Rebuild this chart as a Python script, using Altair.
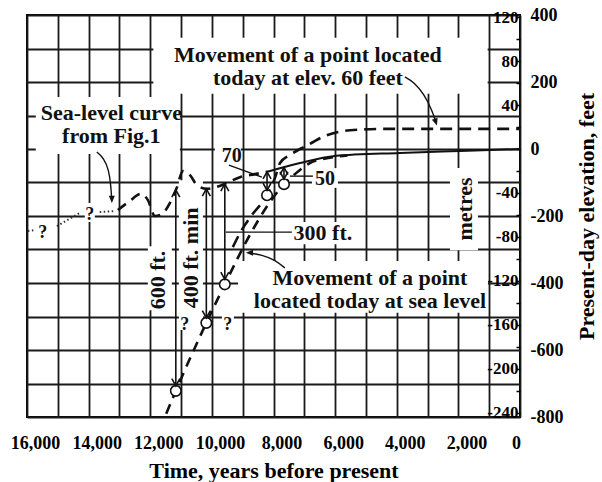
import altair as alt
import pandas as pd

FONT = "Liberation Serif"

# ---------------- data: time in years before present, elevation in feet ----------------
# Sea-level curve from Fig. 1: sparse dotted start, dashed part, solid Holocene part
sl_dot_year = [15970, 15780, 15030, 14290, 13640, 13120]
sl_dot_ft = [-245, -242, -230, -191, -188, -185]
sl_dot_seg = [1, 1, 2, 2, 3, 3]

sl_dash_year = [13050, 12660, 12310, 12080, 11850, 11620, 11360, 11140, 10940,
                10710, 10490, 10160, 9840, 9580, 9090, 8600, 8210]
sl_dash_ft = [-182, -155, -134, -152, -200, -194, -161, -116, -66,
              -78, -107, -119, -113, -104, -84, -75, -68]

sl_solid_year = [8210, 7700, 7140, 6010, 3900, 1950, 0]
sl_solid_ft = [-68, -55, -42, -21, -12, -6, 0]

# Movement of a point located today at sea level
pt0_year = [11480, 11170, 10180, 9580, 8770, 8180, 7660, 7305, 6820, 6170, 5600]
pt0_ft = [-790, -722, -519, -404, -257, -167, -105, -75, -42, -26, -19]

# Movement of a point located today at elevation 60 feet
pt60_year = [9320, 9090, 8700, 8210, 7955, 7790, 7470, 7140, 6820, 6430, 5840, 5195, 4500, 0]
pt60_ft = [-293, -251, -197, -138, -87, -42, -18, 0, 15, 35, 52, 58, 60, 60]

# Uplift arrows: sea level at that time down to the dated point
arr_year = [11170, 10180, 9580, 8210, 7660]
arr_top_ft = [-122, -119, -104, -68, -55]
arr_uplift_ft = [600, 400, 300, 70, 50]

# Annotation text
note_text = ["Movement of a point located", "today at elev. 60 feet",
             "Sea-level curve", "from Fig.1",
             "Movement of a point", "located today at sea level",
             "70", "50", "300 ft.", "?", "?", "?", "?"]
note_year = [6883, 6883, 13263, 13263, 4870, 4870, 9351, 6331, 6396, 15487, 13961, 10877, 9481]
note_ft = [260, 191, 87, 17, -407, -476, -39, -107, -272, -266, -212, -540, -540]
note_size = [22, 22, 22, 22, 22, 22, 20, 20, 22, 18, 18, 18, 18]

vnote_text = ["600 ft.", "400 ft. min", "metres"]
vnote_year = [11753, 10682, 1786]
vnote_ft = [-391, -325, -179]

# White backing behind the annotation text
box_x1 = [11900, 15714, 9150, 12078, 11070, 7370, 9903, 6753, 2273, 14124, 9675]
box_x2 = [1050, 11039, 1040, 11300, 10290, 5455, 9058, 5909, 1364, 13799, 9286]
box_y1 = [332, 155, -334, -290, -93, -218, 27, -57, -57, -161, -487]
box_y2 = [165, -15, -489, -481, -540, -284, -45, -116, -302, -218, -546]

# Leader lines from the annotations
lead_grp = [1, 1, 1, 1, 1, 2, 2, 2, 2, 2, 3, 3, 3, 3, 4, 4, 5, 5, 6, 6]
lead_year = [13734, 13507, 13344, 13280, 13247,
             3734, 3442, 3117, 2857, 2727,
             7630, 7955, 8377, 8799,
             9448, 8377,
             7468, 6721,
             9546, 7403]
lead_ft = [-9, -27, -63, -107, -156,
           215, 200, 164, 116, 80,
           -355, -331, -316, -310,
           -48, -84,
           -81, -81,
           -248, -248]
tip_year = [13247, 2695, 8896]
tip_ft = [-161, 70, -310]
tip_angle = [180, 162, 270]

FT_MIN, FT_MAX = -800, 400
M_PER_FT = 0.3048

# ---------------- scales and axes ----------------
x_scale = alt.Scale(domain=[0, 16000], reverse=True, nice=False, zero=False)
ft_scale = alt.Scale(domain=[FT_MIN, FT_MAX], nice=False, zero=False)

x_axis = alt.Axis(
    values=list(range(0, 16001, 1000)),
    labelExpr="datum.value % 2000 == 0 ? format(datum.value, ',') : ''",
    grid=True, gridColor="#1a1a1a", gridWidth=1.8, gridOpacity=1,
    ticks=False, tickSize=0, domain=False,
    labelFont=FONT, labelFontWeight="bold", labelFontSize=18, labelColor="black",
    labelPadding=17, labelFlush=False, labelOverlap=False,
    labelOffset={"condition": {"test": "datum.value == 0", "value": -4}, "value": 8},
    title="Time, years before present", titleFont=FONT, titleFontWeight="bold",
    titleFontSize=22, titleColor="black", titlePadding=8,
)
ft_axis = alt.Axis(
    orient="right",
    values=list(range(FT_MIN, FT_MAX + 1, 100)),
    labelExpr="datum.value % 200 == 0 ? '' + datum.value : ''",
    grid=True, gridColor="#1a1a1a", gridWidth=1.8, gridOpacity=1,
    ticks=False, tickSize=0, domain=False,
    labelFont=FONT, labelFontWeight="bold", labelFontSize=18, labelColor="black",
    labelPadding=10, labelOverlap=False,
    title="Present-day elevation, feet", titleFont=FONT, titleFontWeight="bold",
    titleFontSize=22, titleColor="black", titleAngle=270, titlePadding=36,
)
m_axis = alt.Axis(
    orient="left", offset=-493,
    values=list(range(-240, 121, 20)),
    labelExpr="datum.value % 40 == 0 && datum.value != 0 ? '' + datum.value : ''",
    grid=False, domain=False, ticks=True, tickSize=4, tickWidth=1.5, tickColor="black",
    labelFont=FONT, labelFontWeight="bold", labelFontSize=17, labelColor="black",
    labelPadding=-2, labelOverlap=False, title=None,
)


def X(field="year"):
    return alt.X(f"{field}:Q", scale=x_scale, axis=x_axis)


def Y(field="ft"):
    return alt.Y(f"{field}:Q", scale=ft_scale, axis=ft_axis)


# ---------------- tables ----------------
sl_dot = pd.DataFrame({"year": sl_dot_year, "ft": sl_dot_ft, "seg": sl_dot_seg})
sl_dash = pd.DataFrame({"year": sl_dash_year, "ft": sl_dash_ft})
sl_solid = pd.DataFrame({"year": sl_solid_year, "ft": sl_solid_ft})
pt0 = pd.DataFrame({"year": pt0_year, "ft": pt0_ft})
pt60 = pd.DataFrame({"year": pt60_year, "ft": pt60_ft})
arrows = pd.DataFrame({"year": arr_year, "top": arr_top_ft, "uplift": arr_uplift_ft})
arrows["bottom"] = arrows["top"] - arrows["uplift"]
notes = pd.DataFrame({"text": note_text, "year": note_year, "ft": note_ft, "size": note_size})
vnotes = pd.DataFrame({"text": vnote_text, "year": vnote_year, "ft": vnote_ft})
boxes = pd.DataFrame({"x1": box_x1, "x2": box_x2, "y1": box_y1, "y2": box_y2})
leads = pd.DataFrame({"grp": lead_grp, "year": lead_year, "ft": lead_ft,
                      "i": list(range(len(lead_grp)))})
tips = pd.DataFrame({"year": tip_year, "ft": tip_ft, "angle": tip_angle})

# ---------------- layers ----------------
box_layer = alt.Chart(boxes).mark_rect(fill="white", stroke=None).encode(
    x=X("x1"), x2="x2", y=Y("y1"), y2="y2")

dot_layer = alt.Chart(sl_dot).mark_line(
    color="#333", strokeWidth=2, strokeDash=[1.5, 2.5]).encode(
    x=X(), y=Y(), detail="seg:N")

dash_layer = alt.Chart(sl_dash).mark_line(
    color="#111", strokeWidth=2.6, strokeDash=[10, 7], interpolate="monotone").encode(
    x=X(), y=Y())

solid_layer = alt.Chart(sl_solid).mark_line(
    color="#111", strokeWidth=2, interpolate="monotone").encode(x=X(), y=Y())

pt0_layer = alt.Chart(pt0).mark_line(
    color="#111", strokeWidth=2.6, strokeDash=[10, 7], interpolate="monotone").encode(
    x=X(), y=Y())

pt60_layer = alt.Chart(pt60).mark_line(
    color="#111", strokeWidth=2.6, strokeDash=[12, 7], interpolate="monotone").encode(
    x=X(), y=Y())

lead_layer = alt.Chart(leads).mark_line(
    color="#111", strokeWidth=1.4, interpolate="basis").encode(
    x=X(), y=Y(), detail="grp:N", order="i:Q")

tip_layer = alt.Chart(tips).mark_point(
    shape="M -1 2.4 L 0 0 L 1 2.4 Z", size=36, filled=True, color="#111", opacity=1).encode(
    x=X(), y=Y(), angle=alt.Angle("angle:Q", scale=None))

arrow_shaft = alt.Chart(arrows).mark_rule(color="#111", strokeWidth=1.6).encode(
    x=X(), y=Y("top"), y2="bottom")

circle_layer = alt.Chart(arrows).mark_point(
    shape="circle", size=110, filled=True, fill="white", stroke="#111",
    strokeWidth=1.6, opacity=1).encode(x=X(), y=Y("bottom"))

head_up = alt.Chart(arrows).mark_point(
    shape="M -1 1.8 L 0 0 L 1 1.8", size=64, filled=False, stroke="#111",
    strokeWidth=1.6, opacity=1).encode(x=X(), y=Y("top"))

head_down = alt.Chart(arrows).mark_point(
    shape="M -1 -3.05 L 0 -1.25 L 1 -3.05", size=64, filled=False, stroke="#111",
    strokeWidth=1.6, opacity=1).encode(x=X(), y=Y("bottom"))

note_layer = alt.Chart(notes).mark_text(
    font=FONT, fontWeight="bold", color="#111", align="center", baseline="alphabetic").encode(
    x=X(), y=Y(), text="text:N", size=alt.Size("size:Q", scale=None))

vnote_layer = alt.Chart(vnotes).mark_text(
    font=FONT, fontWeight="bold", fontSize=22, color="#111", angle=270,
    align="center", baseline="middle").encode(x=X(), y=Y(), text="text:N")

feet_layers = alt.layer(
    box_layer, dot_layer, dash_layer, solid_layer, pt0_layer, pt60_layer,
    lead_layer, tip_layer, arrow_shaft, circle_layer, head_up, head_down,
    note_layer, vnote_layer,
)

# Metres scale drawn inside the right edge of the plot
m_lo, m_hi = FT_MIN * M_PER_FT, FT_MAX * M_PER_FT
metres_layer = alt.Chart(pd.DataFrame({"m": [m_lo, m_hi]})).mark_point(opacity=0).encode(
    y=alt.Y("m:Q", scale=alt.Scale(domain=[m_lo, m_hi], nice=False, zero=False), axis=m_axis))

chart = (
    alt.layer(feet_layers, metres_layer)
    .resolve_scale(y="independent")
    .properties(width=493, height=402, autosize="none",
                padding={"left": 27, "top": 15, "right": 82, "bottom": 65},
                background="white")
    .configure_view(stroke="black", strokeWidth=2)
)

chart.save("out.html", embed_options={"renderer": "svg", "actions": False})
